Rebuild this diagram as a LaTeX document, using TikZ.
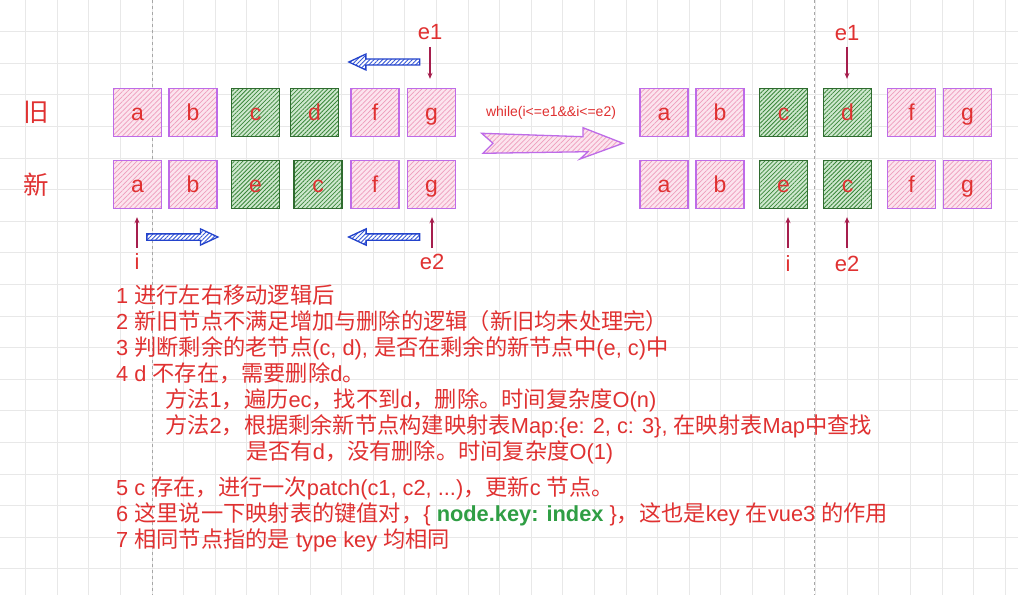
\documentclass[tikz,border=0pt]{standalone}
\usepackage{fontspec}
\setmainfont{Liberation Sans}
\newfontfamily\cjk{Noto Sans CJK SC}[Scale=1.02]
\usetikzlibrary{patterns.meta,arrows.meta,shapes.arrows}

\newlength{\du}
\setlength{\du}{1pt}
\newcommand{\zh}[1]{{\cjk #1}}

\definecolor{redtxt}{HTML}{E03131}
\definecolor{violetline}{HTML}{BE6BE8}
\definecolor{pinkbg}{HTML}{FCE4EE}
\definecolor{pinkhatch}{HTML}{EE9DBC}
\definecolor{greenline}{HTML}{2F6B2F}
\definecolor{greenbg}{HTML}{CFE8CF}
\definecolor{greenhatch}{HTML}{3A873A}
\definecolor{bluestroke}{HTML}{2343CC}
\definecolor{bluehatch}{HTML}{3557D6}
\definecolor{ptrcolor}{HTML}{A61E4D}
\definecolor{keygreen}{HTML}{2F9E44}
\definecolor{gridcol}{HTML}{E8E8E8}
\definecolor{dashcol}{HTML}{A6A6A6}

\tikzset{
  gridline/.style={draw=gridcol, line width=0.7pt},
  divider/.style={draw=dashcol, line width=0.7pt, dash pattern=on 3pt off 3pt},
  pinkbox/.style={draw=violetline, line width=1.4pt, minimum size=48\du, inner sep=0pt,
    preaction={fill=pinkbg}, pattern={Lines[angle=45,distance=3.5pt,line width=0.7pt]},
    pattern color=pinkhatch, text=redtxt, font=\fontsize{23}{23}\selectfont,
    text height=15\du, text depth=0pt},
  greenbox/.style={pinkbox, draw=greenline, line width=1.3pt, preaction={fill=greenbg},
    pattern={Lines[angle=45,distance=3pt,line width=0.8pt]}, pattern color=greenhatch},
  fatarrow/.style={single arrow, draw=bluestroke, line width=1.3pt, inner xsep=0pt,
    inner ysep=2.5\du, minimum height=71\du, single arrow head extend=5\du,
    single arrow tip angle=50, preaction={fill=white},
    pattern={Lines[angle=45,distance=3pt,line width=0.9pt]}, pattern color=bluehatch},
  bigarrow/.style={draw=violetline, line width=1.3pt, preaction={fill=pinkbg},
    pattern={Lines[angle=45,distance=3.5pt,line width=0.7pt]}, pattern color=pinkhatch},
  ptr/.style={draw=ptrcolor, line width=1.1pt, -{Stealth[length=6pt,width=5pt]}},
  label/.style={text=redtxt, inner sep=0pt, font=\fontsize{22}{22}\selectfont},
  rowlabel/.style={text=redtxt, inner sep=0pt, font=\fontsize{25}{25}\selectfont\cjk},
  txt/.style={text=redtxt, inner sep=0pt, anchor=base west, font=\fontsize{21.8}{26}\selectfont}
}

\begin{document}
\begin{tikzpicture}[yscale=-1]
\fill[white] (0,0) rectangle (1018\du,595\du);
\useasboundingbox (0,0) rectangle (1018\du,595\du);
% grid
\foreach \gx [evaluate=\gx as \xx using 25.6+31.6*\gx] in {0,...,31}
  {\draw[gridline] (\xx\du,0) -- (\xx\du,595\du);}
\foreach \gy [evaluate=\gy as \yy using 31.6*\gy] in {1,...,18}
  {\draw[gridline] (0,\yy\du) -- (1018\du,\yy\du);}
\draw[divider] (152\du,0) -- (152\du,595\du);
\draw[divider] (814\du,0) -- (814\du,595\du);

% row labels
\node[rowlabel] (lold) at (36\du,112\du) {旧};
\node[rowlabel] (lnew) at (36\du,185\du) {新};

% left: old row
\node[pinkbox] (oa) at (137.5\du,112.5\du) {a};
\node[pinkbox] (ob) at (193\du,112.5\du) {b};
\node[greenbox] (oc) at (255.5\du,112.5\du) {c};
\node[greenbox] (od) at (314.5\du,112.5\du) {d};
\node[pinkbox] (of) at (375\du,112.5\du) {f};
\node[pinkbox] (og) at (431.5\du,112.5\du) {g};
% left: new row
\node[pinkbox] (na) at (137.5\du,184.5\du) {a};
\node[pinkbox] (nb) at (193\du,184.5\du) {b};
\node[greenbox] (ne) at (255.5\du,184.5\du) {e};
\node[greenbox] (nc) at (318\du,184.5\du) {c};
\node[pinkbox] (nf) at (375\du,184.5\du) {f};
\node[pinkbox] (ng) at (431.5\du,184.5\du) {g};

% left: pointers
\node[label] (le1) at (430\du,32\du) {e1};
\node[label] (li) at (137\du,262\du) {i};
\node[label] (le2) at (432\du,262\du) {e2};
\draw[ptr, shorten <=7\du, shorten >=9\du] (le1) -- (le1 |- og.north);
\draw[ptr, shorten <=6\du, shorten >=8\du] (li) -- (li |- na.south);
\draw[ptr, shorten <=6\du, shorten >=8\du] (le2) -- (le2 |- ng.south);

% moving directions
\node[fatarrow, shape border rotate=180] (mtop) at (387.5\du,62\du) {};
\node[fatarrow] (mleft) at (179\du,237\du) {};
\node[fatarrow, shape border rotate=180] (mright) at (387.5\du,237\du) {};

% while loop
\node[text=redtxt, inner sep=0pt, font=\fontsize{14}{14}\selectfont] (cond) at (551\du,113\du) {while(i<=e1\&\&i<=e2)};
\draw[bigarrow] (481.7\du,133.3\du) -- (583\du,136.7\du) -- (583\du,127.7\du) -- (623\du,143.3\du)
  -- (580\du,159\du) -- (588\du,151.7\du) -- (483\du,153.3\du) -- (493\du,143.3\du) -- cycle;

% right: old row
\node[pinkbox] (roa) at (664\du,112.5\du) {a};
\node[pinkbox] (rob) at (720\du,112.5\du) {b};
\node[greenbox] (roc) at (783.5\du,112.5\du) {c};
\node[greenbox] (rod) at (847.5\du,112.5\du) {d};
\node[pinkbox] (rof) at (911.5\du,112.5\du) {f};
\node[pinkbox] (rog) at (967.5\du,112.5\du) {g};
% right: new row
\node[pinkbox] (rna) at (664\du,184.5\du) {a};
\node[pinkbox] (rnb) at (720\du,184.5\du) {b};
\node[greenbox] (rne) at (783.5\du,184.5\du) {e};
\node[greenbox] (rnc) at (847.5\du,184.5\du) {c};
\node[pinkbox] (rnf) at (911.5\du,184.5\du) {f};
\node[pinkbox] (rng) at (967.5\du,184.5\du) {g};

% right: pointers
\node[label] (re1) at (847\du,33\du) {e1};
\node[label] (ri) at (788\du,264\du) {i};
\node[label] (re2) at (847\du,264\du) {e2};
\draw[ptr, shorten <=6\du, shorten >=9\du] (re1) -- (re1 |- rod.north);
\draw[ptr, shorten <=8\du, shorten >=8\du] (ri) -- (ri |- rne.south);
\draw[ptr, shorten <=8\du, shorten >=8\du] (re2) -- (re2 |- rnc.south);

% notes
\node[txt] (t1) at (116\du,303\du) {1 \zh{进行左右移动逻辑后}};
\node[txt] (t2) at (116\du,329\du) {2 \zh{新旧节点不满足增加与删除的逻辑（新旧均未处理完）}};
\node[txt] (t3) at (116\du,355\du) {3 \zh{判断剩余的老节点}(c, d), \zh{是否在剩余的新节点中}(e, c)\zh{中}};
\node[txt] (t4) at (116\du,381\du) {4 d \zh{不存在，需要删除}d\zh{。}};
\node[txt] (t4a) at (165\du,407\du) {\zh{方法}1\zh{，遍历}ec\zh{，找不到}d\zh{，删除。时间复杂度}O(n)};
\node[txt] (t4b) at (165\du,433\du) {\zh{方法}2\zh{，根据剩余新节点构建映射表}Map:\{e: 2, c: 3\}, \zh{在映射表}Map\zh{中查找}};
\node[txt] (t4c) at (246\du,459\du) {\zh{是否有}d\zh{，没有删除。时间复杂度}O(1)};
\node[txt] (t5) at (116\du,495\du) {5 c \zh{存在，进行一次}patch(c1, c2, ...)\zh{，更新}c \zh{节点。}};
\node[txt] (t6) at (116\du,521\du) {6 \zh{这里说一下映射表的键值对，}\{ {\color{keygreen}\bfseries node.key: index} \}\zh{，这也是}key \zh{在}vue3 \zh{的作用}};
\node[txt] (t7) at (116\du,547\du) {7 \zh{相同节点指的是} type key \zh{均相同}};
\end{tikzpicture}
\end{document}
